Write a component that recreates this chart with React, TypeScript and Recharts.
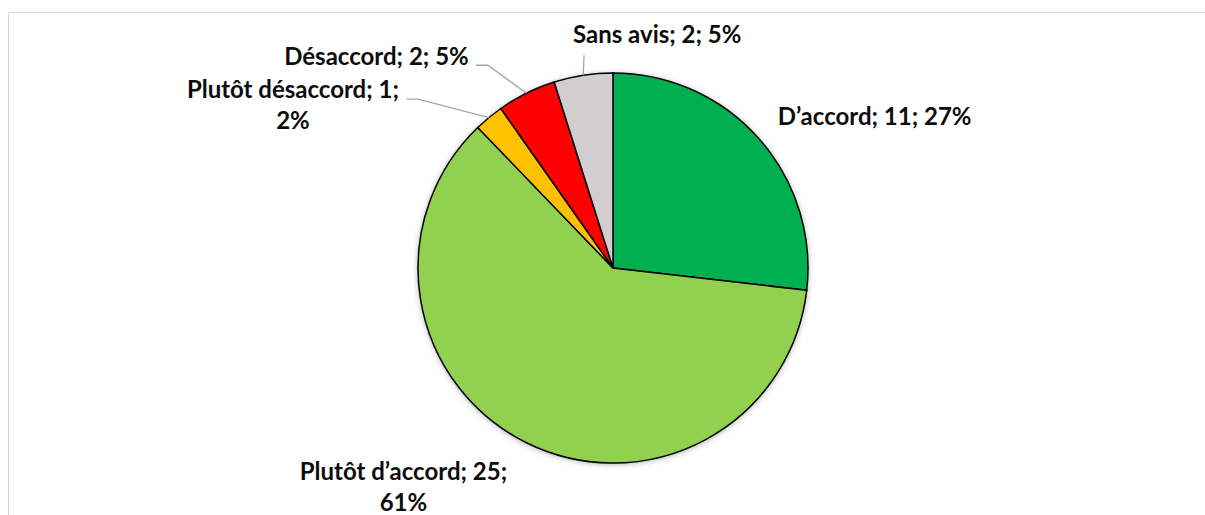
import { PieChart, Pie, Cell } from 'recharts';

const categories = ['D’accord', 'Plutôt d’accord', 'Plutôt désaccord', 'Désaccord', 'Sans avis'];
const counts = [11, 25, 1, 2, 2];
const sliceColors = ['#00B050', '#92D050', '#FFC000', '#FF0000', '#D0CECE'];

const RADIAN = Math.PI / 180;
const FONT = 'Lato, "Open Sans", sans-serif';

// manual label layout, relative to the point where the slice's mid-angle meets the rim
interface LabelLayout {
  dx: number;
  dy: number;
  wrap: boolean;
  leader: [number, number][];
}

const labelLayout: LabelLayout[] = [
  { dx: 116, dy: -13, wrap: false, leader: [] },
  { dx: -123, dy: 37, wrap: true, leader: [] },
  { dx: -196, dy: -20, wrap: true, leader: [[-71, -18.5], [-82, -18.5]] },
  { dx: -150, dy: -28, wrap: false, leader: [[-38.6, -28], [-50.6, -28]] },
  { dx: 74, dy: -32, wrap: false, leader: [[0.8, -20]] },
];

function renderLabel(props: any) {
  const { cx, cy, midAngle, outerRadius, percent, index, value } = props;
  const ex = cx + outerRadius * Math.cos(-midAngle * RADIAN);
  const ey = cy + outerRadius * Math.sin(-midAngle * RADIAN);
  const cfg = labelLayout[index];
  const pct = `${Math.round(percent * 100)}%`;
  const x = ex + cfg.dx;
  const y = ey + cfg.dy;
  const pts = [[0, 0], ...cfg.leader].map(([px, py]) => `${ex + px},${ey + py}`).join(' ');

  return (
    <g key={`lbl-${index}`}>
      {cfg.leader.length > 0 && (
        <polyline points={pts} fill="none" stroke="#A6A6A6" strokeWidth={1.3} />
      )}
      <text
        x={x}
        y={y}
        textAnchor="middle"
        fontFamily={FONT}
        fontWeight={700}
        fontSize={24}
        fill="#0D0D0D"
      >
        {cfg.wrap ? (
          <>
            <tspan x={x}>{`${categories[index]}; ${value};`}</tspan>
            <tspan x={x} dy={31}>{pct}</tspan>
          </>
        ) : (
          `${categories[index]}; ${value}; ${pct}`
        )}
      </text>
    </g>
  );
}

export default function App() {
  const data = categories.map((name, i) => ({ name, value: counts[i] }));
  const total = counts.reduce((a, b) => a + b, 0);

  return (
    <>
      <svg width={0} height={0} style={{ position: 'absolute' }}>
        <defs>
          <filter id="pieShadow" x="-20%" y="-20%" width="140%" height="140%">
            <feDropShadow dx={0} dy={1} stdDeviation={3} floodColor="#000" floodOpacity={0.35} />
          </filter>
        </defs>
      </svg>
      <div
        style={{
          position: 'fixed',
          left: 8,
          top: 12,
          width: 1197,
          height: 520,
          borderTop: '1px solid #D9D9D9',
          borderLeft: '1px solid #D9D9D9',
          background: '#fff',
          overflow: 'hidden',
        }}
      >
        <PieChart width={1196} height={503} margin={{ top: 0, right: 0, bottom: 0, left: 0 }}>
          <Pie
            data={[{ name: 'total', value: total }]}
            dataKey="value"
            cx={604}
            cy={255}
            outerRadius={195}
            stroke="none"
            isAnimationActive={false}
          >
            <Cell fill="#fff" filter="url(#pieShadow)" />
          </Pie>
          <Pie
            data={data}
            dataKey="value"
            nameKey="name"
            cx={604}
            cy={255}
            outerRadius={195}
            startAngle={90}
            endAngle={-270}
            stroke="#000"
            strokeWidth={1.5}
            label={renderLabel}
            labelLine={false}
            isAnimationActive={false}
          >
            {data.map((d, i) => (
              <Cell key={d.name} fill={sliceColors[i]} />
            ))}
          </Pie>
        </PieChart>
      </div>
    </>
  );
}
